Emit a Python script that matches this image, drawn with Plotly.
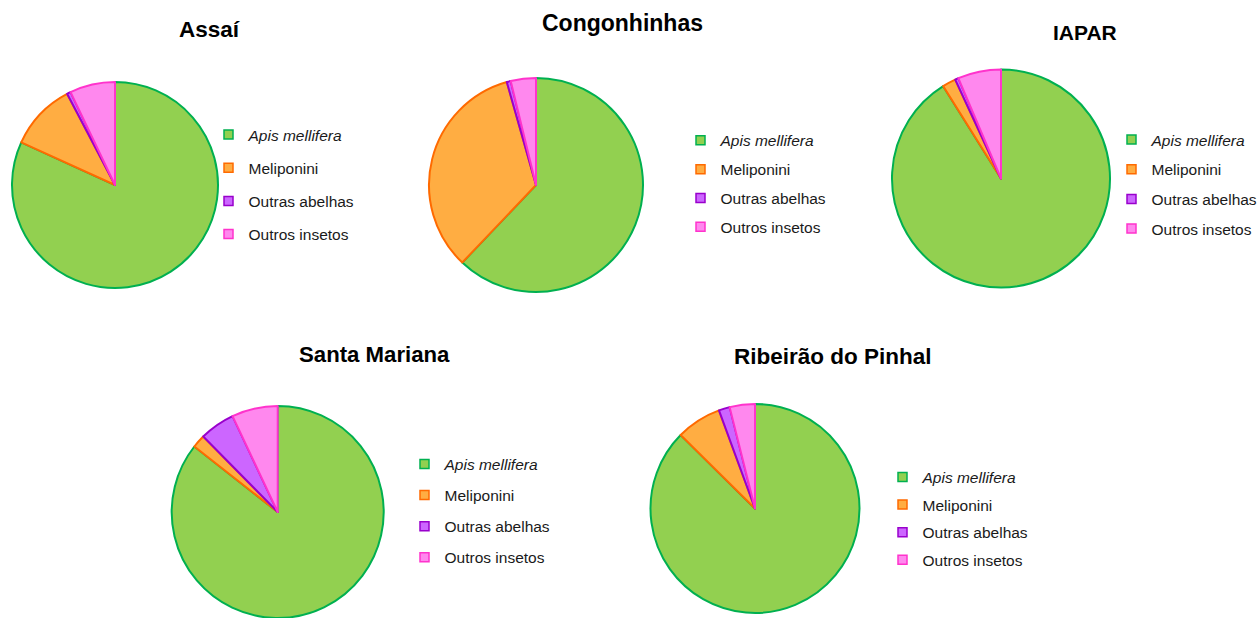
import plotly.graph_objects as go

# Pollinator visit shares (%) per site
categories = ["<i>Apis mellifera</i>", "Meliponini", "Outras abelhas", "Outros insetos"]
sites = ["Assaí", "Congonhinhas", "IAPAR", "Santa Mariana", "Ribeirão do Pinhal"]
assai = [81.8, 10.5, 0.6, 7.1]
congonhinhas = [62.1, 33.5, 0.6, 3.8]
iapar = [91.1, 2.0, 0.5, 6.4]
santa_mariana = [85.6, 2.0, 5.4, 7.0]
ribeirao = [87.4, 7.0, 1.7, 3.9]
site_values = [assai, congonhinhas, iapar, santa_mariana, ribeirao]

fill_colors = ["#92D050", "#FFAD42", "#CC66FF", "#FF88EE"]
line_colors = ["#00B050", "#FF6A00", "#9900CC", "#FF33CC"]

W, H = 1257, 618

# Layout of each panel in pixels: pie centre/radius, title centre/size, legend anchor
pie_geom = [(115, 185, 103), (536, 185, 107), (1001, 178.5, 109),
            (277.7, 512, 106), (755, 508.5, 104.5)]
title_pos = [(209.5, 29, 22.5), (622.5, 23, 23), (1085, 32, 21),
             (374.5, 354, 22.2), (832.5, 356, 22.5)]
legend_pos = [(208.5, 118), (680.5, 123.7), (1111.5, 123), (404.5, 447.3), (882.5, 460.3)]
legend_gaps = [10, 5.7, 6.5, 8, 4.5]

fig = go.Figure()
layout_legends = {}

for i, (site, vals) in enumerate(zip(sites, site_values)):
    cx, cy, r = pie_geom[i]
    lname = "legend" if i == 0 else f"legend{i + 1}"
    fig.add_trace(go.Pie(
        labels=categories,
        values=vals,
        sort=False,
        direction="clockwise",
        rotation=0,
        textinfo="none",
        hoverinfo="label+percent",
        marker=dict(colors=fill_colors, line=dict(color=line_colors, width=2)),
        domain=dict(x=[(cx - r) / W, (cx + r) / W],
                    y=[1 - (cy + r) / H, 1 - (cy - r) / H]),
        showlegend=False,
        name=site,
    ))
    # legend entries, one group per category so they can be spaced apart
    for cat, fc, lc in zip(categories, fill_colors, line_colors):
        fig.add_trace(go.Scatter(
            x=[None], y=[None], mode="markers", name=cat,
            marker=dict(symbol="square", size=9, color=fc, line=dict(color=lc, width=1.5)),
            legend=lname, legendgroup=f"{site}-{cat}", showlegend=True,
            hoverinfo="skip",
        ))
    lx, ly = legend_pos[i]
    layout_legends[lname] = dict(
        x=lx / W, y=1 - ly / H, xanchor="left", yanchor="top",
        bgcolor="rgba(0,0,0,0)", borderwidth=0,
        font=dict(family="Arial, Liberation Sans, sans-serif", size=15.5, color="#1a1a1a"),
        traceorder="grouped", tracegroupgap=legend_gaps[i],
        itemclick=False, itemdoubleclick=False,
    )
    tx, ty, ts = title_pos[i]
    fig.add_annotation(
        text=f"<b>{site}</b>", x=tx / W, y=1 - ty / H, xref="paper", yref="paper",
        xanchor="center", yanchor="middle", showarrow=False,
        font=dict(family="Arial, Liberation Sans, sans-serif", size=ts, color="#000000"),
    )

fig.update_layout(
    width=W, height=H,
    margin=dict(l=0, r=0, t=0, b=0, autoexpand=False),
    paper_bgcolor="white", plot_bgcolor="white",
    xaxis=dict(visible=False), yaxis=dict(visible=False),
    **layout_legends,
)

fig.write_html("out.html")
